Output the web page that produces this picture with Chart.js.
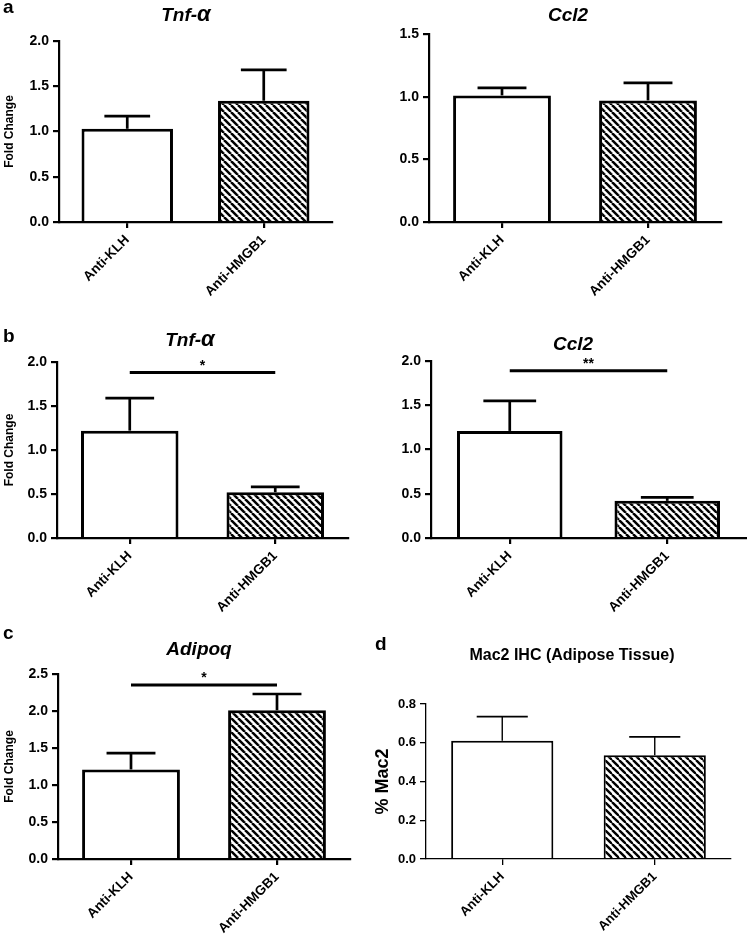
<!DOCTYPE html>
<html>
<head>
<meta charset="utf-8">
<script src="https://cdn.jsdelivr.net/npm/chart.js@4.4.1/dist/chart.umd.min.js"></script>
<style>
  html, body { margin: 0; padding: 0; background: #fff; }
  #page { position: relative; width: 747px; height: 939px; overflow: hidden; font-family: "Liberation Sans", Arial, sans-serif; color: #000; }
  canvas { position: absolute; }
  .letter { position: absolute; font-weight: bold; font-size: 19px; line-height: 1; white-space: nowrap; z-index: 2; }
  .ttl { position: absolute; font-weight: bold; font-style: italic; font-size: 19px; line-height: 1; white-space: nowrap; transform: translateX(-50%); z-index: 2; }
  .ttl .al { font-size: 22px; }
</style>
</head>
<body>
<div id="page">
  <div class="letter" style="left:3px; top:-3px;">a</div>
  <div class="letter" style="left:3px; top:326px;">b</div>
  <div class="letter" style="left:3px; top:623px;">c</div>
  <div class="letter" style="left:375px; top:634px;">d</div>
  <div class="ttl" style="left:186px; top:3px;">Tnf-<span class="al">α</span></div>
  <div class="ttl" style="left:568px; top:5px;">Ccl2</div>
  <div class="ttl" style="left:190px; top:328px;">Tnf-<span class="al">α</span></div>
  <div class="ttl" style="left:573px; top:334px;">Ccl2</div>
  <div class="ttl" style="left:199px; top:639px;">Adipoq</div>
  <div class="ttl" style="left:572px; top:647px; font-style:normal; font-size:16px;">Mac2 IHC (Adipose Tissue)</div>
</div>
<script>
// groups on the x axis
const groups = ['Anti-KLH', 'Anti-HMGB1'];

// a: Tnf-α and Ccl2 (mean, SEM)
const tnfA = [1.03, 1.34];
const tnfAErr = [0.14, 0.34];
const ccl2A = [1.01, 0.97];
const ccl2AErr = [0.06, 0.14];

// b: Tnf-α and Ccl2
const tnfB = [1.22, 0.52];
const tnfBErr = [0.37, 0.06];
const ccl2B = [1.21, 0.42];
const ccl2BErr = [0.34, 0.04];

// c: Adipoq
const adipoq = [1.21, 2.01];
const adipoqErr = [0.22, 0.22];

// d: Mac2 IHC
const mac2 = [0.61, 0.535];
const mac2Err = [0.125, 0.095];

// significance bars: level on y, label
const sigTnfB = { level: 1.88, text: '*' };
const sigCcl2B = { level: 1.89, text: '**' };
const sigAdipoq = { level: 2.35, text: '*' };

const FONT = '"Liberation Sans", Arial, sans-serif';

// box = canvas [x, y, w, h], area = wanted chart area [left, top, right, bottom]
const panels = [
  { box: [0, 0, 374, 310], area: [59, 41, 332, 222], max: 2.0, step: 0.5, mean: tnfA, err: tnfAErr, ytitle: 'Fold Change' },
  { box: [374, 0, 373, 310], area: [429, 34, 721, 222], max: 1.5, step: 0.5, mean: ccl2A, err: ccl2AErr },
  { box: [0, 310, 374, 310], area: [57, 362, 348, 538], max: 2.0, step: 0.5, mean: tnfB, err: tnfBErr, ytitle: 'Fold Change', sig: sigTnfB },
  { box: [374, 310, 373, 310], area: [431, 361, 746, 538], max: 2.0, step: 0.5, mean: ccl2B, err: ccl2BErr, sig: sigCcl2B },
  { box: [0, 620, 374, 319], area: [58, 674, 350, 859], max: 2.5, step: 0.5, mean: adipoq, err: adipoqErr, ytitle: 'Fold Change', sig: sigAdipoq },
  { box: [374, 620, 373, 319], area: [426, 704, 731, 859], max: 0.8, step: 0.2, mean: mac2, err: mac2Err, ytitle: '% Mac2', thin: true }
];

function hatch(lw) {
  const s = 7;
  const c = document.createElement('canvas');
  c.width = s; c.height = s;
  const g = c.getContext('2d');
  g.fillStyle = '#fff';
  g.fillRect(0, 0, s, s);
  g.strokeStyle = '#000';
  g.lineWidth = lw;
  for (const k of [-1, 0, 1]) {
    g.beginPath();
    g.moveTo(k * s, 0);
    g.lineTo(k * s + s, s);
    g.stroke();
  }
  return g.createPattern(c, 'repeat');
}

// error bars (upper only) + significance line
function extras(p, st) {
  return {
    id: 'extras',
    afterDatasetsDraw(chart) {
      const ctx = chart.ctx, ys = chart.scales.y;
      const bars = chart.getDatasetMeta(0).data;
      ctx.save();
      ctx.strokeStyle = '#000';
      ctx.lineCap = 'butt';
      bars.forEach((bar, i) => {
        const top = ys.getPixelForValue(p.mean[i] + p.err[i]);
        const half = bar.width / 4;
        ctx.lineWidth = st.stem;
        ctx.beginPath();
        ctx.moveTo(bar.x, bar.y);
        ctx.lineTo(bar.x, top);
        ctx.stroke();
        ctx.lineWidth = st.cap;
        ctx.beginPath();
        ctx.moveTo(bar.x - half, top);
        ctx.lineTo(bar.x + half, top);
        ctx.stroke();
      });
      if (p.sig) {
        const y = ys.getPixelForValue(p.sig.level);
        const x1 = bars[0].x, x2 = bars[1].x;
        ctx.lineWidth = 3;
        ctx.beginPath();
        ctx.moveTo(x1, y);
        ctx.lineTo(x2, y);
        ctx.stroke();
        ctx.fillStyle = '#000';
        ctx.font = 'bold 14px ' + FONT;
        ctx.textAlign = 'center';
        ctx.textBaseline = 'alphabetic';
        ctx.fillText(p.sig.text, (x1 + x2) / 2, y - 3);
      }
      ctx.restore();
    }
  };
}

const page = document.getElementById('page');

panels.forEach(p => {
  const [bx, by, bw, bh] = p.box;
  const [L, T, R, B] = p.area;
  const cv = document.createElement('canvas');
  cv.width = bw; cv.height = bh;
  cv.style.left = bx + 'px'; cv.style.top = by + 'px';
  cv.style.width = bw + 'px'; cv.style.height = bh + 'px';
  page.appendChild(cv);

  const st = p.thin
    ? { axis: 1.3, bar: 2, stem: 1.4, cap: 1.8, hatch: 2.4, ytick: 13, xtick: 13, ytitle: 18 }
    : { axis: 2.2, bar: 3, stem: 2.7, cap: 2.7, hatch: 2.5, ytick: 14, xtick: 13.5, ytitle: 12 };

  new Chart(cv, {
    type: 'bar',
    data: {
      labels: groups,
      datasets: [{
        data: p.mean,
        backgroundColor: ['#fff', hatch(st.hatch)],
        borderColor: '#000',
        borderWidth: st.bar,
        borderSkipped: 'bottom',
        barPercentage: 0.67,
        categoryPercentage: 1
      }]
    },
    options: {
      responsive: false,
      animation: false,
      layout: { padding: { left: 0, top: T - by, right: bx + bw - R, bottom: 0 } },
      plugins: { legend: { display: false }, tooltip: { enabled: false } },
      scales: {
        x: {
          grid: { display: true, drawOnChartArea: false, drawTicks: true, offset: false, tickLength: 6, color: '#000', lineWidth: st.axis, z: 1 },
          border: { display: true, color: '#000', width: st.axis, z: 1 },
          ticks: { color: '#000', font: { family: FONT, size: st.xtick, weight: 'bold' }, maxRotation: 45, minRotation: 45, autoSkip: false, padding: 4 },
          afterFit: s => { s.height = by + bh - B; }
        },
        y: {
          min: 0,
          max: p.max,
          grid: { display: true, drawOnChartArea: false, drawTicks: true, tickLength: 6, color: '#000', lineWidth: st.axis, z: 1 },
          border: { display: true, color: '#000', width: st.axis, z: 1 },
          ticks: { stepSize: p.step, color: '#000', font: { family: FONT, size: st.ytick, weight: 'bold' }, padding: 4, callback: v => v.toFixed(1) },
          title: {
            display: !!p.ytitle,
            text: p.ytitle || '',
            color: '#000',
            font: { family: FONT, size: st.ytitle, weight: 'bold', lineHeight: 1 },
            padding: { top: p.thin ? 0 : 4, bottom: 0 }
          },
          afterFit: s => { s.width = L - bx; }
        }
      }
    },
    plugins: [extras(p, st)]
  });
});
</script>
</body>
</html>
